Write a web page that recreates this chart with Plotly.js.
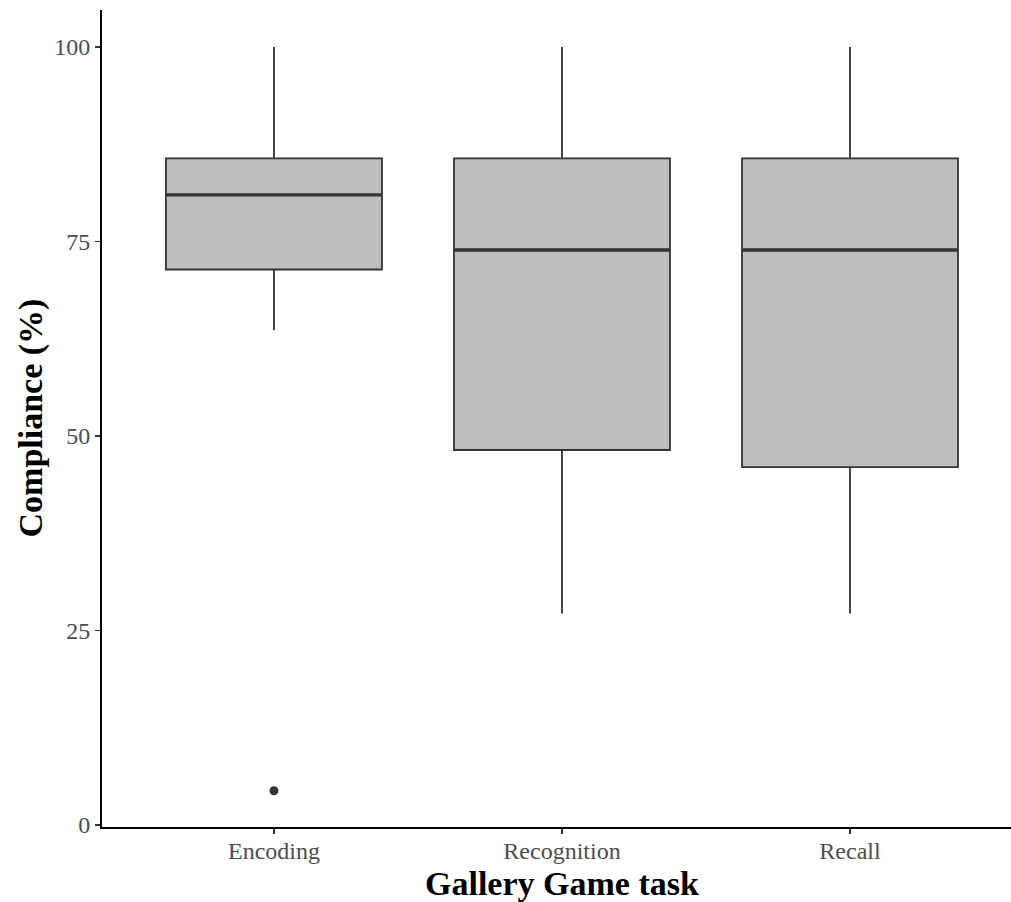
<!DOCTYPE html>
<html>
<head>
<meta charset="utf-8">
<script src="https://cdn.plot.ly/plotly-3.0.1.min.js"></script>
<style>html,body{margin:0;padding:0;background:#fff;overflow:hidden;}#chart{width:1011px;height:902px;}</style>
</head>
<body>
<div id="chart"></div>
<script>
var tasks = ["Encoding", "Recognition", "Recall"];
var lowerWhisker = [63.6, 27.2, 27.2];
var q1Values = [71.4, 48.2, 46.0];
var medianValues = [81.0, 73.9, 73.9];
var q3Values = [85.7, 85.7, 85.7];
var upperWhisker = [100, 100, 100];
var outlierTasks = ["Encoding"];
var outlierValues = [4.4];
var yTicks = [0, 25, 50, 75, 100];
var xTitle = "Gallery Game task";
var yTitle = "Compliance (%)";

var serif = "Liberation Serif, Times New Roman, serif";

var boxTrace = {
  type: "box",
  x: tasks,
  q1: q1Values,
  median: medianValues,
  q3: q3Values,
  lowerfence: lowerWhisker,
  upperfence: upperWhisker,
  width: 0.75,
  whiskerwidth: 0,
  fillcolor: "#bebebe",
  line: {color: "#333333", width: 1.8},
  hoverinfo: "skip",
  showlegend: false
};
var medianTrace = {
  type: "box",
  x: tasks,
  q1: medianValues,
  median: medianValues,
  q3: medianValues,
  lowerfence: medianValues,
  upperfence: medianValues,
  width: 0.75,
  whiskerwidth: 0,
  fillcolor: "rgba(0,0,0,0)",
  line: {color: "#333333", width: 3.4},
  hoverinfo: "skip",
  showlegend: false
};
var outlierTrace = {
  type: "scatter",
  mode: "markers",
  x: outlierTasks,
  y: outlierValues,
  marker: {color: "#333333", size: 9},
  hoverinfo: "skip",
  showlegend: false
};

var layout = {
  width: 1011,
  height: 902,
  margin: {l: 102, r: 0, t: 10, b: 75},
  paper_bgcolor: "#ffffff",
  plot_bgcolor: "#ffffff",
  boxmode: "overlay",
  showlegend: false,
  font: {family: serif},
  annotations: [
    {
      text: xTitle, xref: "paper", yref: "paper", x: 0.506, y: 0,
      xanchor: "center", yanchor: "middle", yshift: -56, showarrow: false,
      font: {family: serif, size: 34, color: "#000000", weight: "bold"}
    },
    {
      text: yTitle, xref: "paper", yref: "paper", x: 0, y: 0.5,
      xanchor: "center", yanchor: "middle", xshift: -72, textangle: -90, showarrow: false,
      font: {family: serif, size: 34, color: "#000000", weight: "bold"}
    }
  ],
  xaxis: {
    type: "category",
    range: [-0.597, 2.559],
    showgrid: false,
    zeroline: false,
    showline: true,
    linecolor: "#000000",
    linewidth: 2,
    ticks: "outside",
    ticklen: 5,
    tickwidth: 1.5,
    tickcolor: "#333333",
    ticklabelstandoff: -4,
    tickfont: {family: serif, size: 24, color: "#4d4d4d"}
  },
  yaxis: {
    range: [-0.26, 104.76],
    tickvals: yTicks,
    ticktext: yTicks.map(String),
    showgrid: false,
    zeroline: false,
    showline: true,
    linecolor: "#000000",
    linewidth: 2,
    ticks: "outside",
    ticklen: 5,
    tickwidth: 1.5,
    tickcolor: "#333333",
    tickfont: {family: serif, size: 24, color: "#4d4d4d"}
  }
};

Plotly.newPlot("chart", [boxTrace, medianTrace, outlierTrace], layout, {staticPlot: true, displayModeBar: false});
</script>
</body>
</html>
